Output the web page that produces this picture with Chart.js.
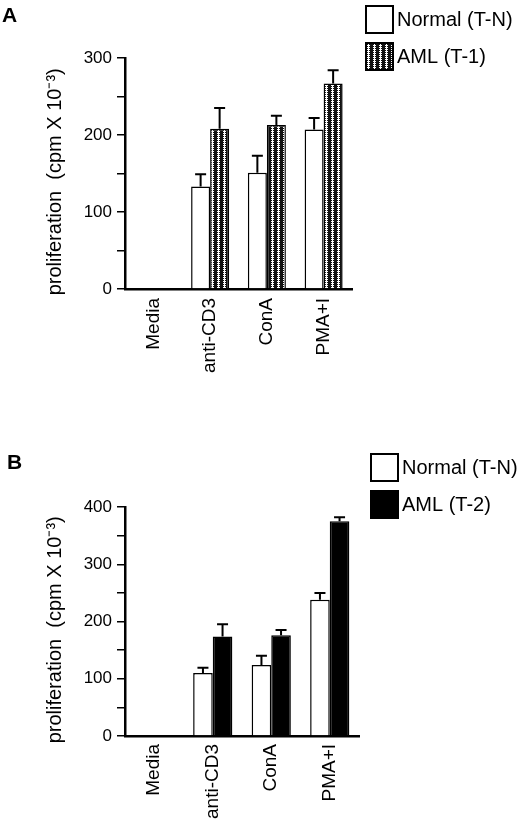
<!DOCTYPE html>
<html>
<head>
    <script src="https://cdn.jsdelivr.net/npm/chart.js@4.4.1/dist/chart.umd.min.js"></script>
    <style>
        body { margin: 0; background: #fff; }
        .panel { position: absolute; left: 0; width: 520px; }
    </style>
</head>
<body>
    <div class="panel" style="top:0; height:390px;"><canvas id="chartA"></canvas></div>
    <div class="panel" style="top:390px; height:433px;"><canvas id="chartB"></canvas></div>

    <script>
        // data (cpm x 10^-3)
        const categories = ['Media', 'anti-CD3', 'ConA', 'PMA+I'];

        const normalA = [0, 133, 151, 207];
        const normalA_err = [0, 16, 22, 15];
        const amlA = [0, 208, 213, 267];
        const amlA_err = [0, 27, 12, 17];

        const normalB = [0, 110, 124, 238];
        const normalB_err = [0, 9, 16, 12];
        const amlB = [0, 174, 176, 375];
        const amlB_err = [0, 21, 9, 7];

        const ticksA = [0, 100, 200, 300];
        const ticksB = [0, 100, 200, 300, 400];

        Chart.defaults.font.family = "'Liberation Sans', Arial, sans-serif";
        Chart.defaults.color = '#000';

        // dotted cross-hatch used for AML (T-1)
        function makePattern() {
            const c = document.createElement('canvas');
            c.width = 6; c.height = 4;
            const g = c.getContext('2d');
            g.fillStyle = '#111';
            g.fillRect(0, 0, 6, 4);
            g.fillStyle = '#fff';
            g.fillRect(2, 0, 1, 4);
            g.fillRect(1, 1, 1, 1);
            g.fillRect(3, 1, 1, 1);
            g.fillRect(1, 3, 1, 1);
            g.fillRect(3, 3, 1, 1);
            return g.createPattern(c, 'repeat');
        }
        const hatch = makePattern();

        // error bars (upward only) drawn from the errs array attached to each dataset
        const errorBars = {
            id: 'errorBars',
            afterDatasetsDraw(chart) {
                const ctx = chart.ctx;
                const y = chart.scales.y;
                chart.data.datasets.forEach((ds, di) => {
                    const meta = chart.getDatasetMeta(di);
                    meta.data.forEach((bar, i) => {
                        if (!ds.errs || !ds.data[i]) return;
                        const top = y.getPixelForValue(ds.data[i] + ds.errs[i]);
                        ctx.save();
                        ctx.strokeStyle = '#000';
                        ctx.lineWidth = 2;
                        ctx.beginPath();
                        ctx.moveTo(bar.x, bar.y);
                        ctx.lineTo(bar.x, top);
                        ctx.moveTo(bar.x - 5.5, top);
                        ctx.lineTo(bar.x + 5.5, top);
                        ctx.stroke();
                        ctx.restore();
                    });
                });
            }
        };

        // panel letter and legend boxes at fixed spots
        const panelDecor = {
            id: 'panelDecor',
            afterDraw(chart, args, opts) {
                const ctx = chart.ctx;
                ctx.save();
                ctx.fillStyle = '#000';
                ctx.font = "bold 21px 'Liberation Sans', Arial";
                ctx.textBaseline = 'alphabetic';
                ctx.fillText(opts.letter, opts.letterX, opts.letterY);
                ctx.font = "20px 'Liberation Sans', Arial";
                ctx.textBaseline = 'middle';
                chart.data.datasets.forEach((ds, i) => {
                    const bx = opts.boxX, by = opts.boxY + i * opts.gap;
                    ctx.fillStyle = ds.backgroundColor;
                    ctx.fillRect(bx, by, opts.box, opts.box);
                    ctx.strokeStyle = '#000';
                    ctx.lineWidth = 2;
                    ctx.strokeRect(bx, by, opts.box, opts.box);
                    ctx.fillStyle = '#000';
                    ctx.fillText(ds.label, bx + opts.box + 4, by + opts.box / 2 + 1);
                });
                ctx.restore();
            }
        };

        function makeChart(id, sets, yMax, yTicks, lay, decor) {
            new Chart(document.getElementById(id), {
                type: 'bar',
                data: {
                    labels: categories,
                    datasets: sets.map(s => ({
                        label: s.label,
                        data: s.data,
                        errs: s.errs,
                        backgroundColor: s.color,
                        borderColor: '#000',
                        borderWidth: 1.5,
                        borderSkipped: 'bottom',
                        categoryPercentage: 0.67,
                        barPercentage: 1
                    }))
                },
                options: {
                    responsive: true,
                    maintainAspectRatio: false,
                    animation: false,
                    layout: { padding: { left: 40, top: lay.top, right: lay.right, bottom: 0 } },
                    plugins: {
                        legend: { display: false },
                        tooltip: { enabled: false },
                        panelDecor: decor
                    },
                    scales: {
                        x: {
                            grid: { display: false, drawTicks: false },
                            border: { display: true, color: '#000', width: 2.5 },
                            ticks: { font: { size: 19 }, minRotation: 90, maxRotation: 90, padding: lay.xPad },
                            afterFit(scale) { scale.height = lay.xHeight; }
                        },
                        y: {
                            min: 0,
                            max: yMax,
                            grid: { drawOnChartArea: false, drawTicks: true, tickLength: 8, color: '#000', lineWidth: 1.5 },
                            border: { display: true, color: '#000', width: 2.5 },
                            ticks: {
                                stepSize: 50,
                                font: { size: 17 },
                                padding: 5,
                                callback: v => yTicks.includes(v) ? v : ''
                            },
                            title: {
                                display: true,
                                text: 'proliferation  (cpm X 10⁻³)   ',
                                font: { size: 20 },
                                padding: { top: 3, bottom: 4 }
                            },
                            afterFit(scale) { scale.width = 85; }
                        }
                    }
                },
                plugins: [errorBars, panelDecor]
            });
        }

        makeChart('chartA', [
            { label: 'Normal (T-N)', data: normalA, errs: normalA_err, color: '#fff' },
            { label: 'AML (T-1)', data: amlA, errs: amlA_err, color: hatch }
        ], 300, ticksA,
            { top: 58, right: 168, xHeight: 101, xPad: 9 },
            { letter: 'A', letterX: 2, letterY: 22, boxX: 366, boxY: 6, box: 27, gap: 37 });

        makeChart('chartB', [
            { label: 'Normal (T-N)', data: normalB, errs: normalB_err, color: '#fff' },
            { label: 'AML (T-2)', data: amlB, errs: amlB_err, color: '#000' }
        ], 400, ticksB,
            { top: 117, right: 161, xHeight: 87, xPad: 8 },
            { letter: 'B', letterX: 7, letterY: 79, boxX: 371, boxY: 64, box: 27, gap: 37 });
    </script>
</body>
</html>
